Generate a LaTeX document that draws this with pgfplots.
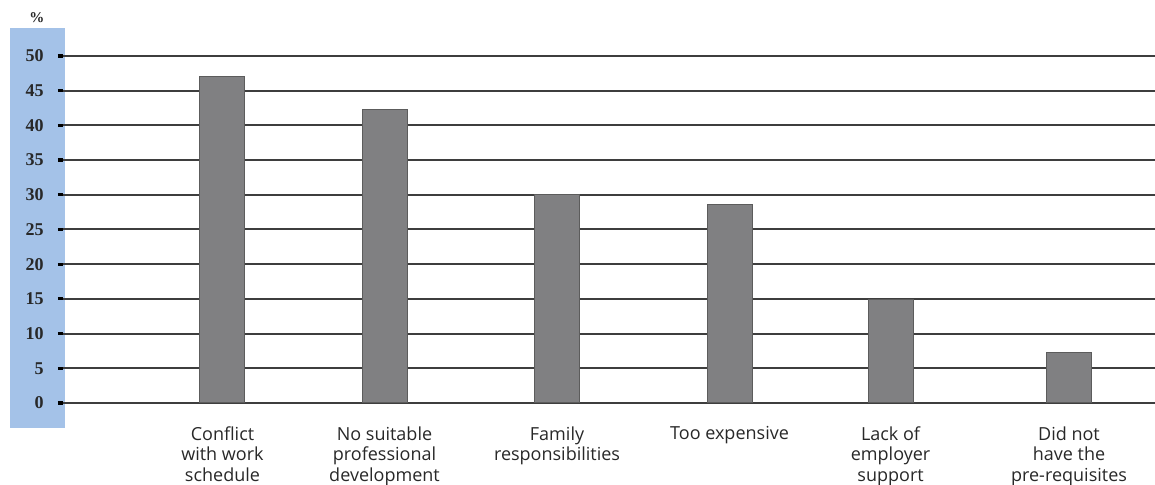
\documentclass[border=0pt]{standalone}
\usepackage{pgfplots}
\pgfplotsset{compat=1.18}
\usepackage{fontspec}
\setmainfont{Open Sans}
\newfontfamily\numfont{Liberation Serif}

\definecolor{stripblue}{RGB}{164,194,232}
\definecolor{barfill}{RGB}{128,128,130}
\definecolor{baredge}{RGB}{92,92,92}
\definecolor{gridgray}{RGB}{62,62,62}
\definecolor{labelgray}{RGB}{40,40,40}

\begin{document}
\begin{tikzpicture}[x=0.5pt,y=0.5pt]
  % page frame, measured from the lower left corner of the plot area
  \useasboundingbox (-63,-82) rectangle (1092,403);
  % shaded band behind the value scale
  \fill[stripblue] (-53,-25) rectangle (2,375);
  \node[font=\numfont\bfseries\fontsize{7.5}{8}\selectfont, text=labelgray] at (-26,385) {\%};
  \begin{axis}[
    anchor=south west,
    scale only axis,
    width=546pt, height=173.5pt,
    xmin=-0.942, xmax=5.508,
    ymin=0, ymax=50,
    ytick={0,5,...,50},
    xtick={0,0.957,1.976,2.995,3.946,5.0},
    xticklabels={
      Conflict\\with work\\schedule,
      No suitable\\professional\\development,
      Family\\responsibilities,
      Too expensive,
      Lack of\\employer\\support,
      Did not\\have the\\pre-requisites},
    axis line style={draw=none},
    ymajorgrids,
    major grid style={gridgray, line width=1pt},
    tick align=outside,
    major tick length=2.5pt,
    ytick style={black, line width=1.6pt},
    xtick style={draw=none},
    /pgf/number format/assume math mode=true,
    yticklabel style={font=\numfont\bfseries\fontsize{9}{10}\selectfont,
      text=labelgray, anchor=east, inner sep=0pt, xshift=-7pt},
    xticklabel style={font=\fontsize{9}{10.3}\selectfont, text=labelgray,
      align=center, anchor=north, inner sep=0pt, yshift=-9pt},
    clip=false,
  ]
    \addplot[ybar, bar width=22.5pt, fill=barfill, draw=baredge, line width=0.5pt]
      coordinates {(0,47.0) (0.957,42.3) (1.976,30.1) (2.995,28.6) (3.946,14.9) (5.0,7.25)};
  \end{axis}
\end{tikzpicture}
\end{document}
